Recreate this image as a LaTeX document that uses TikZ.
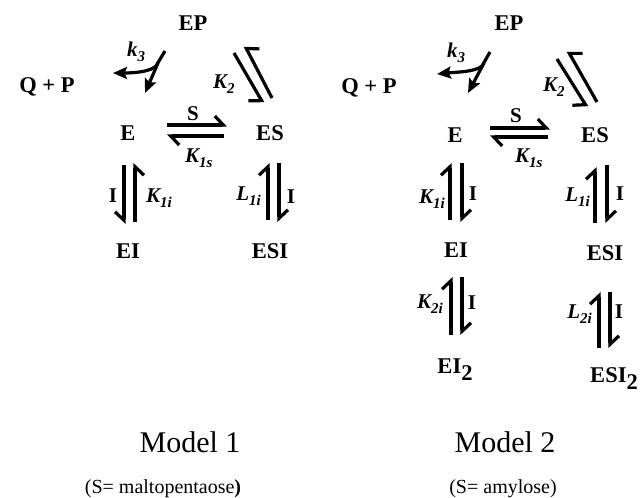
\documentclass[tikz,border=0pt]{standalone}
\usepackage{fontspec}
\setmainfont{Liberation Serif}
\usetikzlibrary{arrows.meta}
\newcommand{\lsub}[1]{\raisebox{-0.25em}{\fontsize{15}{15}\selectfont #1}}
\begin{document}
\begin{tikzpicture}[x=1pt,y=-1pt,
 sp/.style={font=\fontsize{22.5}{24}\selectfont\bfseries, inner sep=0pt, anchor=base},
 lab/.style={font=\fontsize{21}{22}\selectfont\bfseries\itshape, inner sep=0pt},
 upl/.style={font=\fontsize{21}{22}\selectfont\bfseries, inner sep=0pt, anchor=base},
 hl/.style={line width=3.2pt, -{Straight Barb[left,length=8.5pt,width=18pt]}},
 hr/.style={line width=3.2pt, -{Straight Barb[right,length=8.5pt,width=18pt]}},
 hk/.style={line width=3.2pt, -{Straight Barb[right,length=6.5pt,width=23pt]}},
 fa/.style={line width=3.2pt, -{Stealth[length=14pt,width=12pt,inset=2.5pt]}},
 ttl/.style={font=\fontsize{30}{32}\selectfont, inner sep=0pt, anchor=base},
 subttl/.style={font=\fontsize{20}{22}\selectfont, inner sep=0pt, anchor=base},
]
\useasboundingbox (0,0) rectangle (640,498);
\fill[white] (0,0) rectangle (640,498);

% ---------------- Model 1 ----------------
\node[sp] (EP1) at (193,30) {EP};
\node[sp] (QP1) at (47,92) {Q + P};
\node[sp] (E1) at (128,140) {E};
\node[sp] (ES1) at (270,140) {ES};
\node[sp] (EI1) at (128,258) {EI};
\node[sp] (ESI1) at (270,258) {ESI};

\node[lab, anchor=base west] (k31) at (127,56) {k\lsub{3}};
\node[lab, anchor=base west] (K21) at (213,88) {K\lsub{2}};
\node[upl] (S1) at (193,120) {S};
\node[lab, anchor=base west] (K1s1) at (185,162) {K\lsub{1s}};
\node[upl] (I1a) at (113,202) {I};
\node[lab, anchor=base west] (K1i1) at (146,202) {K\lsub{1i}};
\node[lab, anchor=base east] (L1i1) at (261,200) {L\lsub{1i}};
\node[upl] (I1b) at (291,203) {I};

% k3 arrows
\draw[fa, line join=round] ([shift={(-28,21)}]EP1.base) -- ([shift={(-37,36)}]EP1.base)
   .. controls ([shift={(-43,42)}]EP1.base) and ([shift={(-60,43)}]EP1.base) .. ([shift={(66,-19)}]QP1.base);
\draw[fa] ([shift={(-35,33)}]EP1.base) -- ([shift={(17,-47)}]E1.base);
% K2
\draw[hk] ([shift={(41,23)}]EP1.base) -- ([shift={(-7,-37)}]ES1.base);
\draw[hk] ([shift={(2,-42)}]ES1.base) -- ([shift={(52,16)}]EP1.base);
% S / K1s
\draw[hl] ([shift={(39,-15)}]E1.base) -- ([shift={(-43,-15)}]ES1.base);
\draw[hl] ([shift={(-46,-4)}]ES1.base) -- ([shift={(39,-4)}]E1.base);
% E - EI
\draw[hr] ([shift={(-4,25)}]E1.base) -- ([shift={(-4,-34)}]EI1.base);
\draw[hr] ([shift={(7,-36)}]EI1.base) -- ([shift={(7,23)}]E1.base);
% ES - ESI
\draw[hl] ([shift={(-2,-38)}]ESI1.base) -- ([shift={(-2,23)}]ES1.base);
\draw[hl] ([shift={(9,23)}]ES1.base) -- ([shift={(9,-36)}]ESI1.base);

% ---------------- Model 2 ----------------
\node[sp] (EP2) at (509,30) {EP};
\node[sp] (QP2) at (369,93) {Q + P};
\node[sp] (E2) at (455,142) {E};
\node[sp] (ES2) at (595,142) {ES};
\node[sp] (EI2) at (456,257) {EI};
\node[sp] (ESI2) at (605,260) {ESI};
\node[sp] (EIb) at (455,373) {EI\raisebox{-7pt}{2}};
\node[sp] (ESIb) at (614,382) {ESI\raisebox{-7pt}{2}};

\node[lab, anchor=base west] (k32) at (447,57) {k\lsub{3}};
\node[lab, anchor=base west] (K22) at (543,91) {K\lsub{2}};
\node[upl] (S2) at (516,122) {S};
\node[lab, anchor=base west] (K1s2) at (515,162) {K\lsub{1s}};
\node[lab, anchor=base east] (K1i2) at (445,203) {K\lsub{1i}};
\node[upl] (I2a) at (473,200) {I};
\node[lab, anchor=base east] (L1i2) at (590,201) {L\lsub{1i}};
\node[upl] (I2b) at (620,200) {I};
\node[lab, anchor=base east] (K2i2) at (443,308) {K\lsub{2i}};
\node[upl] (I2c) at (472,309) {I};
\node[lab, anchor=base east] (L2i2) at (592,318) {L\lsub{2i}};
\node[upl] (I2d) at (619,318) {I};

% k3 arrows
\draw[fa, line join=round] ([shift={(-19,22)}]EP2.base) -- ([shift={(-27,36)}]EP2.base)
   .. controls ([shift={(-34,42)}]EP2.base) and ([shift={(-52,42)}]EP2.base) .. ([shift={(68,-19)}]QP2.base);
\draw[fa] ([shift={(-25,33)}]EP2.base) -- ([shift={(13,-49)}]E2.base);
% K2
\draw[hk] ([shift={(48,29)}]EP2.base) -- ([shift={(-8,-35)}]ES2.base);
\draw[hk] ([shift={(2,-40)}]ES2.base) -- ([shift={(59,21)}]EP2.base);
% S / K1s
\draw[hl] ([shift={(35,-14)}]E2.base) -- ([shift={(-45,-14)}]ES2.base);
\draw[hl] ([shift={(-47,-5)}]ES2.base) -- ([shift={(35,-5)}]E2.base);
% E - EI
\draw[hl] ([shift={(-6,-37)}]EI2.base) -- ([shift={(-5,21)}]E2.base);
\draw[hl] ([shift={(7,21)}]E2.base) -- ([shift={(6,-35)}]EI2.base);
% ES - ESI
\draw[hl] ([shift={(-10,-37)}]ESI2.base) -- ([shift={(0,25)}]ES2.base);
\draw[hl] ([shift={(12,23)}]ES2.base) -- ([shift={(2,-37)}]ESI2.base);
% EI - EI2
\draw[hl] ([shift={(-4,-38)}]EIb.base) -- ([shift={(-5,20)}]EI2.base);
\draw[hl] ([shift={(6,20)}]EI2.base) -- ([shift={(7,-38)}]EIb.base);
% ESI - ESI2
\draw[hl] ([shift={(-15,-34)}]ESIb.base) -- ([shift={(-6,32)}]ESI2.base);
\draw[hl] ([shift={(5,32)}]ESI2.base) -- ([shift={(-4,-34)}]ESIb.base);

% ---------------- Titles ----------------
\node[ttl] (T1) at (190,452) {Model 1};
\node[subttl] (P1) at (163,493) {(S= maltopentaose\textbf{)}};
\node[ttl] (T2) at (505,452) {Model 2};
\node[subttl] (P2) at (503,493) {(S= amylose)};
\end{tikzpicture}
\end{document}
